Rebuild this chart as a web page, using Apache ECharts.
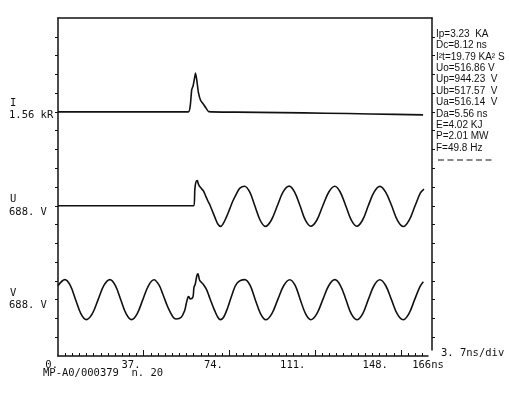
<!DOCTYPE html>
<html><head><meta charset="utf-8">
<script src="https://cdn.jsdelivr.net/npm/echarts@6/dist/echarts.min.js"></script>
<style>html,body{margin:0;padding:0;background:#fff}#c{width:509px;height:396px}</style>
</head><body><div id="c"></div>
<script>
// ---- data (time in ns as labelled, current in kA, voltage in V) ----
const currentTime = [0, 20, 40, 58.5, 59.3, 60.0, 60.6, 61.2, 61.7, 62.3, 63.0, 64.0, 65.2, 66.3, 67.6, 80, 100, 120, 140, 163.8];
const currentKA   = [0, 0, 0, 0, 0.45, 1.85, 2.15, 2.75, 3.23, 2.6, 1.6, 0.95, 0.65, 0.35, 0.02, -0.02, -0.06, -0.11, -0.17, -0.25];

const uTime = [0, 30, 60.95, 61.4, 61.85, 62.5, 62.9, 63.3, 64.3, 65.3, 66.2, 67.2, 68.3, 69.5, 70.7, 71.7, 72.9, 74.0, 75.5, 77.0,
  78.5, 80.0, 81.5, 83.7, 86.0, 88.3, 90.7, 93.0, 95.7, 98.4, 101.0, 103.7, 106.1, 108.6, 111.0, 113.4, 116.1, 118.8, 121.5, 124.2,
  126.6, 129.1, 131.6, 134.0, 136.6, 139.2, 141.8, 144.4, 147.0, 149.7, 152.3, 154.9, 157.5, 160.2, 162.6, 164.2];
const uVolt = [0, 0, 0, 612, 857, 925, 813, 740, 637, 538, 366, 183, 0, -242, -487, -670, -755, -670, -425, -121,
  183, 429, 637, 715, 505, 0, -530, -755, -530, 0, 510, 720, 510, 0, -530, -750, -530, 0, 505, 715,
  505, 0, -530, -750, -530, 0, 500, 710, 500, 0, -535, -760, -535, 0, 470, 612];

const vTime = [0, 3.1, 5.5, 7.9, 10.3, 12.7, 15.35, 18.0, 20.6, 23.3, 25.7, 28.15, 30.6, 33.0, 35.5, 38.05, 40.6, 43.1, 45.3, 47.0,
  49.3, 51.5, 53.0, 55.3, 56.8, 57.5, 58.3, 58.7, 59.3, 60.5, 61.0, 61.6, 62.3, 62.8, 63.5, 64.3, 65.3, 66.5, 67.7, 68.8,
  70.3, 71.7, 72.8, 74.3, 76.2, 78.2, 80.3, 83.8, 86.2, 88.5, 90.9, 93.2, 95.9, 98.6, 101.3, 104.0, 106.4, 108.7, 111.1, 113.4,
  116.1, 118.8, 121.5, 124.2, 126.7, 129.2, 131.6, 134.1, 136.7, 139.2, 141.8, 144.4, 147.0, 149.6, 152.2, 154.8, 157.4, 160.0, 162.4, 163.9];
const vVolt = [513, 733, 522, 0, -518, -731, -520, 0, 521, 735, 520, 0, -522, -733, -520, 0, 518, 730, 540, 209,
  -278, -623, -707, -645, -403, -158, 88, 110, 26, 88, 454, 575, 879, 944, 722, 637, 549, 392, 147, -95,
  -403, -645, -733, -645, -278, 209, 601, 733, 520, 0, -522, -736, -520, 0, 518, 731, 520, 0, -522, -735,
  -520, 0, 520, 733, 518, 0, -524, -736, -520, 0, 520, 730, 520, 0, -524, -738, -520, 0, 480, 660];

const iPerDiv = 1.56, uPerDiv = 688, vPerDiv = 688;
const timeLabels = [0, 37, 74, 111, 148];
const timeEnd = 166;
const readouts = ['Ip=3.23  KA', 'Dc=8.12 ns', 'I\u00B2t=19.79 KA\u00B2 S', 'Uo=516.86 V', 'Up=944.23  V', 'Ub=517.57  V',
  'Ua=516.14  V', 'Da=5.56 ns', 'E=4.02 KJ', 'P=2.01 MW', 'F=49.8 Hz'];

// ---- layout ----
const DIVS = 18;
const iBase = 13, uBase = 8, vBase = 3;   // trace zero lines, in divisions from bottom
const tickStep = 3.205, majorEvery = 12, nTicks = 51;
const minorTicks = [], majorTicks = [];
for (let k = 1; k <= nTicks; k++) (k % majorEvery === 0 ? majorTicks : minorTicks).push(+(k * tickStep).toFixed(3));
const divTicks = [];
for (let d = 1; d < DIVS; d++) divTicks.push(d);
const rightStart = 6 / 18.78;   // right frame line stops a little above the time axis

const zip = (a, b) => a.map((t, i) => [t, b[i]]);
const mono = '"DejaVu Sans Mono", "Liberation Mono", monospace';
const black = '#111';

const chart = echarts.init(document.getElementById('c'), null, {renderer: 'canvas'});
const lineStyle = {color: black, width: 1.6};
chart.setOption({
  animation: false,
  backgroundColor: '#fff',
  grid: [
    {left: 58, top: 18, width: 374, height: 332},   // frame (top + right)
    {left: 58, top: 18, right: 81, bottom: 40}      // traces, left + time axis
  ],
  xAxis: [
    {gridIndex: 0, type: 'value', position: 'top', min: 0, max: 1,
      axisLine: {show: true, onZero: false, lineStyle: {color: black, width: 1.5}},
      axisTick: {show: false}, axisLabel: {show: false}, splitLine: {show: false}},
    {gridIndex: 1, type: 'value', position: 'bottom', min: 0, max: timeEnd,
      axisLine: {show: true, onZero: false, lineStyle: {color: black, width: 1.5}},
      axisTick: {show: true, inside: true, length: 3, customValues: minorTicks, lineStyle: {color: black, width: 1}},
      axisLabel: {show: true, customValues: timeLabels, formatter: v => v + '.', align: 'right', margin: 4,
        fontFamily: mono, fontSize: 10.5, color: black},
      splitLine: {show: false}},
    {gridIndex: 1, type: 'value', position: 'bottom', offset: 0, min: 0, max: timeEnd,
      axisLine: {show: false, onZero: false},
      axisTick: {show: true, inside: true, length: 6, customValues: majorTicks, lineStyle: {color: black, width: 1}},
      axisLabel: {show: true, customValues: [timeEnd], formatter: v => v + 'ns', align: 'center', margin: 4,
        fontFamily: mono, fontSize: 10.5, color: black},
      splitLine: {show: false}}
  ],
  yAxis: [
    {gridIndex: 1, type: 'value', min: 0, max: DIVS, interval: 1, position: 'left',
      axisLine: {show: true, onZero: false, lineStyle: {color: black, width: 1.5}},
      axisTick: {show: true, length: 3, customValues: divTicks, lineStyle: {color: black}}, axisLabel: {show: false}, splitLine: {show: false}},
    {gridIndex: 0, type: 'value', min: rightStart, max: DIVS, position: 'right',
      axisLine: {show: true, onZero: false, lineStyle: {color: black, width: 1.5}},
      axisTick: {show: true, length: 3, customValues: divTicks, lineStyle: {color: black}}, axisLabel: {show: false}, splitLine: {show: false}},
    {gridIndex: 1, type: 'value', show: false, min: -iBase * iPerDiv, max: (DIVS - iBase) * iPerDiv},
    {gridIndex: 1, type: 'value', show: false, min: -uBase * uPerDiv, max: (DIVS - uBase) * uPerDiv},
    {gridIndex: 1, type: 'value', show: false, min: -vBase * vPerDiv, max: (DIVS - vBase) * vPerDiv}
  ],
  series: [
    {name: 'I', type: 'line', xAxisIndex: 1, yAxisIndex: 2, data: zip(currentTime, currentKA), showSymbol: false, smooth: 0.2, lineStyle},
    {name: 'U', type: 'line', xAxisIndex: 1, yAxisIndex: 3, data: zip(uTime, uVolt), showSymbol: false, smooth: 0.35, lineStyle},
    {name: 'V', type: 'line', xAxisIndex: 1, yAxisIndex: 4, data: zip(vTime, vVolt), showSymbol: false, smooth: 0.35, lineStyle}
  ],
  graphic: [
    {type: 'text', style: {text: 'I', x: 10, y: 103, font: '10.5px ' + mono, fill: black, verticalAlign: 'middle'}},
    {type: 'text', style: {text: '1.56 kR', x: 9, y: 115, font: '10.5px ' + mono, fill: black, verticalAlign: 'middle'}},
    {type: 'text', style: {text: 'U', x: 10, y: 199, font: '10.5px ' + mono, fill: black, verticalAlign: 'middle'}},
    {type: 'text', style: {text: '688. V', x: 9, y: 212, font: '10.5px ' + mono, fill: black, verticalAlign: 'middle'}},
    {type: 'text', style: {text: 'V', x: 10, y: 293, font: '10.5px ' + mono, fill: black, verticalAlign: 'middle'}},
    {type: 'text', style: {text: '688. V', x: 9, y: 305, font: '10.5px ' + mono, fill: black, verticalAlign: 'middle'}},
    {type: 'text', style: {text: '3. 7ns/div', x: 441, y: 353, font: '10.5px ' + mono, fill: black, verticalAlign: 'middle'}},
    {type: 'text', style: {text: 'MP-A0/000379  n. 20', x: 43, y: 373, font: '10.5px ' + mono, fill: black, verticalAlign: 'middle'}},
    {type: 'line', shape: {x1: 438, y1: 160, x2: 493, y2: 160}, style: {stroke: black, lineWidth: 1, lineDash: [6, 3.5]}}
  ].concat(readouts.map((t, i) => ({type: 'text', style: {text: t, x: 436, y: 34 + i * 11.4,
    font: '10px "Liberation Sans Narrow", "Liberation Sans", Arial, sans-serif', fill: black, verticalAlign: 'middle'}})))
});
</script>
</body></html>
